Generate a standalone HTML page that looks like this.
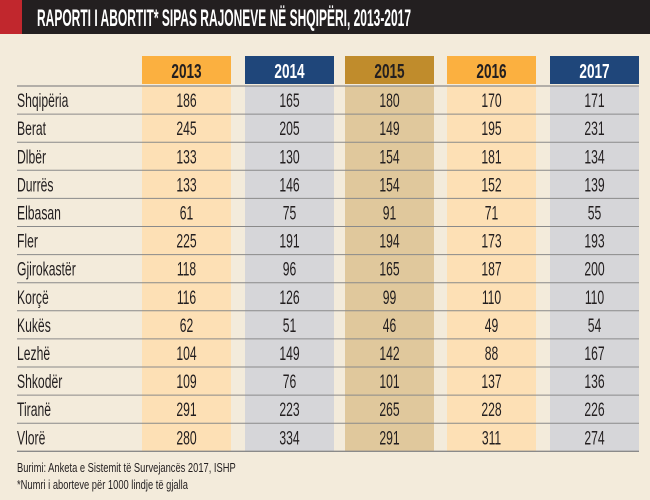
<!DOCTYPE html>
<html><head><meta charset="utf-8"><style>
body{margin:0;width:650px;height:495px;background:#f3ebdb;overflow:hidden;font-family:"Liberation Sans",sans-serif}
svg text{font-family:"Liberation Sans",sans-serif}
</style></head><body>
<svg id="c" width="650" height="495">
<rect x="0" y="0" width="650" height="34" fill="#231f20"/>
<rect x="0" y="0" width="22" height="34" fill="#c1272d"/>
<text x="0" y="0" fill="#fff" font-size="24" font-weight="bold" transform="translate(37,26) scale(0.5,1)">RAPORTI I ABORTIT* SIPAS RAJONEVE NË SHQIPËRI, 2013-2017</text>
<text x="0" y="0" font-size="13" fill="#231f20" transform="translate(17,472) scale(0.72,1)">Burimi: Anketa e Sistemit të Survejancës 2017, ISHP</text>
<text x="0" y="0" font-size="13" fill="#231f20" transform="translate(17,489) scale(0.72,1)">*Numri i aborteve për 1000 lindje të gjalla</text>
</svg>
<script>
const years=['2013','2014','2015','2016','2017'];
const regions=['Shqipëria','Berat','Dlbër','Durrës','Elbasan','Fler','Gjirokastër','Korçë','Kukës','Lezhë','Shkodër','Tiranë','Vlorë'];
const v2013=[186,245,133,133,61,225,118,116,62,104,109,291,280];
const v2014=[165,205,130,146,75,191,96,126,51,149,76,223,334];
const v2015=[180,149,154,154,91,194,165,99,46,142,101,265,291];
const v2016=[170,195,181,152,71,173,187,110,49,88,137,228,311];
const v2017=[171,231,134,139,55,193,200,110,54,167,136,226,274];
const series=[v2013,v2014,v2015,v2016,v2017];
const svg=document.getElementById('c');
const NS='http://www.w3.org/2000/svg';
const colX=[142,245,345,447,550],colW=89;
const headC=['#fbb040','#1f467a','#c08c2c','#fbb040','#1f467a'];
const headT=['#231f20','#fff','#231f20','#231f20','#fff'];
const bodyC=['#fde0b5','#d6d6d9','#e0c89c','#fde0b5','#d6d6d9'];
const top0=86,rowH=28.1;
function rowY(i){return top0+i*rowH;}
function mk(tag,attrs){const e=document.createElementNS(NS,tag);for(const k in attrs)e.setAttribute(k,attrs[k]);svg.appendChild(e);return e;}
years.forEach((y,j)=>{
 let h=mk('rect',{x:colX[j],y:56,width:colW,height:28,fill:headC[j]});
 
 
 let b=mk('rect',{x:colX[j],y:top0,width:colW,height:rowH*regions.length,fill:bodyC[j]});
 
 
 let t=mk('text',{x:0,y:0,'text-anchor':'middle','font-size':20,'font-weight':'bold',fill:headT[j],transform:'translate('+(colX[j]+colW/2)+',78) scale(0.68,1)'});
 t.textContent=y;
 
 
});
for(let i=0;i<=regions.length;i++){
 let l=mk('line',{x1:17,x2:639,y1:rowY(i),y2:rowY(i),stroke:'#8a8a8a','stroke-width':i==0||i==regions.length?1.3:1});
 
 
}
regions.forEach((r,i)=>{
 const cy=rowY(i)+rowH/2+7;
 let t=mk('text',{x:0,y:0,'font-size':19,fill:'#231f20',transform:'translate(17,'+cy+') scale(0.64,1)'});
 t.textContent=r;
 
 
 series.forEach((s,j)=>{
  let c=mk('text',{x:0,y:0,'text-anchor':'middle','font-size':19,fill:'#231f20',transform:'translate('+(colX[j]+colW/2)+','+cy+') scale(0.64,1)'});
  c.textContent=s[i];
  
  
 });
});
</script>
</body></html>
